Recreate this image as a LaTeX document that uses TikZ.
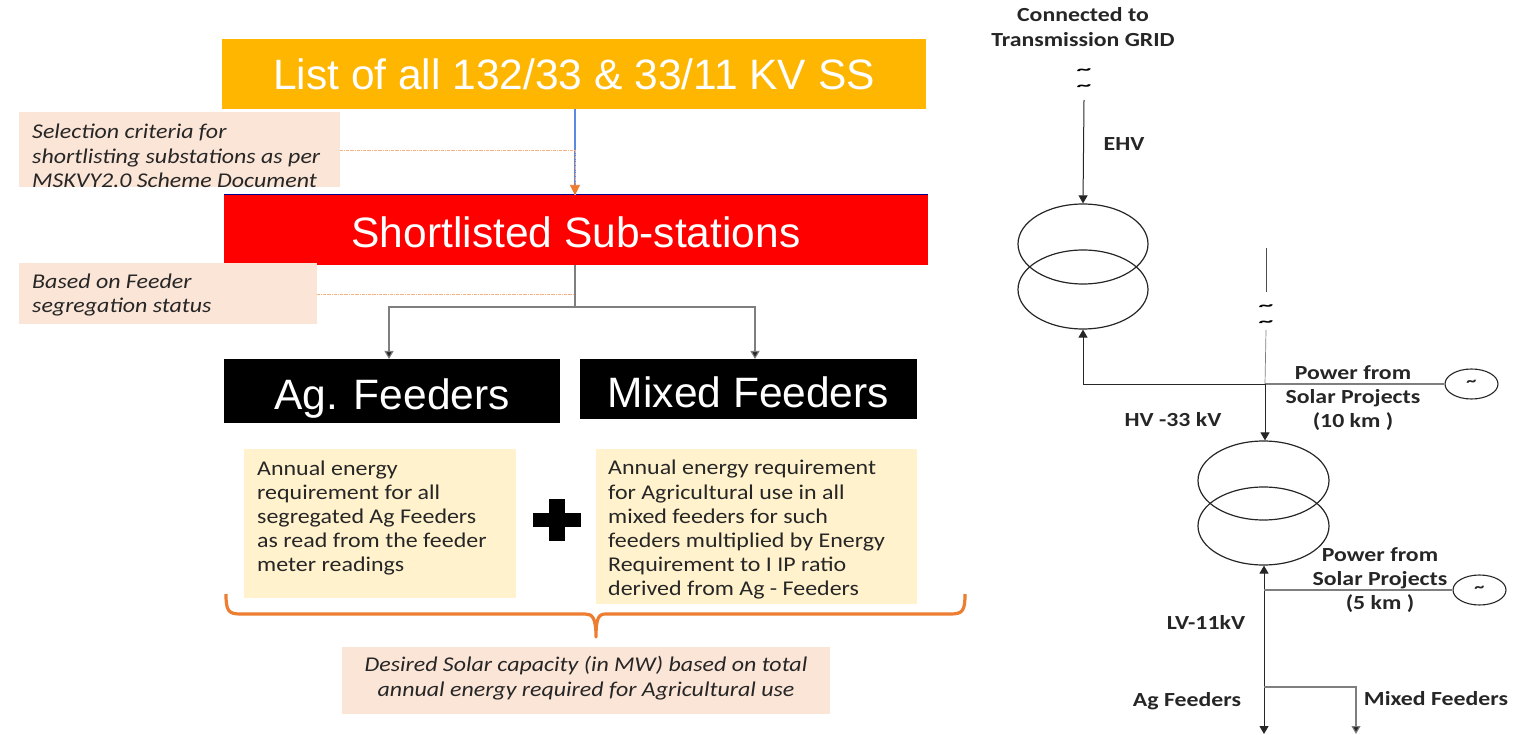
\documentclass[tikz,border=0pt]{standalone}
\usepackage{fontspec}
\setmainfont{Liberation Sans}
\newfontfamily\calfont[FakeStretch=1.14]{Carlito}
\newfontfamily\calbold[FakeStretch=1.19]{Carlito}
\newfontfamily\tildefont[FakeStretch=1.9]{Carlito}
\usetikzlibrary{shapes.geometric,arrows.meta,calc}
\definecolor{amberc}{HTML}{FFB600}
\definecolor{peachc}{HTML}{FBE5D7}
\definecolor{creamc}{HTML}{FFF2CD}
\definecolor{bracec}{HTML}{ED7D31}
\definecolor{inkc}{HTML}{262626}
\definecolor{greyc}{HTML}{7F7F7F}
\definecolor{linkblue}{HTML}{5B8AE0}
\tikzset{
  headbox/.style={rectangle,inner sep=0pt,text=white,text depth=0pt,font=\fontsize{42.5}{46}\selectfont},
  plainbox/.style={rectangle,inner sep=0pt},
  notetext/.style={inner sep=0pt,align=left,anchor=west,text=inkc,font=\calfont\itshape\fontsize{21}{24.3}\selectfont},
  bodytext/.style={inner sep=0pt,align=left,anchor=west,text=inkc,font=\calfont\fontsize{21}{24.2}\selectfont},
  elabel/.style={inner sep=0pt,align=center,text=black!85,font=\calbold\bfseries\fontsize{20}{24.3}\selectfont},
  tf/.style={ellipse,draw=black!85,line width=1.2pt,inner sep=0pt},
  src/.style={ellipse,draw=black!85,line width=1.1pt,inner sep=0pt,minimum width=53pt,minimum height=30pt},
  tild/.style={inner sep=0pt,align=center,font=\tildefont\bfseries\fontsize{15.5}{16}\selectfont,text=black},
  stild/.style={inner sep=0pt,font=\calbold\bfseries\fontsize{17}{17}\selectfont,text=black!85},
  blk/.style={line width=1pt,draw=black!85,-{Triangle[length=8pt,width=9pt]}},
  gry/.style={line width=1.1pt,draw=greyc,-{Triangle[length=8pt,width=9pt,fill=black!85]}},
  gryline/.style={line width=1.1pt,draw=greyc},
  dots/.style={line width=.6pt,draw=bracec!60,densely dashdotted},
}
\begin{document}
\begin{tikzpicture}[x=1pt,y=-1pt]
\useasboundingbox (0,0) rectangle (1529,735);
% heading boxes
\node[headbox,fill=amberc,text height=32pt,minimum width=704pt,minimum height=70pt] (list) at (574,74) {List of all 132/33 \& 33/11 KV SS};
\node[headbox,fill=red,text height=36pt,minimum width=704pt,minimum height=70pt] (short) at (576,230) {Shortlisted Sub-stations};
\draw[line width=.8pt,draw=blue!60!black] (short.north west) -- (short.north east);
\node[headbox,fill=black,text height=36pt,minimum width=336pt,minimum height=64pt] (ag) at (392,391) {Ag. Feeders};
\node[headbox,fill=black,text height=36pt,minimum width=337pt,minimum height=60pt] (mixed) at (748.5,389) {Mixed Feeders};
% notes
\node[plainbox,fill=peachc,minimum width=321pt,minimum height=75pt] (n1) at (179.5,149.5) {};
\node[notetext] (n1t) at (32,156) {Selection criteria for\\shortlisting substations as per\\MSKVY2.0 Scheme Document};
\node[plainbox,fill=peachc,minimum width=298pt,minimum height=61pt] (n2) at (168,293.5) {};
\node[notetext] (n2t) at (32,295) {Based on Feeder\\segregation status};
% main flow
\coordinate (top1) at (575,109);
\coordinate (bot1) at (575,195);
\coordinate (top2) at (575,265);
\coordinate (bus) at (575,307);
\coordinate (agtop) at (389,359);
\coordinate (mixtop) at (755,359);
\coordinate (d1) at (575,150.5);
\coordinate (d2) at (575,294);
\draw[line width=1.2pt,draw=linkblue] (top1) -- (bot1);
\draw[dots] (d1) -- (bot1);
\draw[line width=.6pt,draw=bracec,-{Triangle[length=10pt,width=10pt,fill=bracec]}] ($(bot1)+(0,-12)$) -- (bot1);
\draw[dots] (n1.east |- d1) -- (d1);
\draw[dots] (n2.east |- d2) -- (d2);
\draw[line width=1.5pt,draw=greyc] (top2) -- (bus);
\draw[gry] (bus) -| (agtop);
\draw[gry] (bus) -| (mixtop);
% body boxes
\node[plainbox,fill=creamc,minimum width=271.5pt,minimum height=149pt] (y1) at (379.75,523.5) {};
\node[bodytext] (y1t) at (257,518) {Annual energy\\requirement for all\\segregated Ag Feeders\\as read from the feeder\\meter readings};
\node[plainbox,fill=creamc,minimum width=321.5pt,minimum height=155pt] (y2) at (756.25,526.5) {};
\node[bodytext] (y2t) at (608,530) {Annual energy requirement\\for Agricultural use in all\\mixed feeders for such\\feeders multiplied by Energy\\Requirement to I IP ratio\\derived from Ag - Feeders};
% plus
\fill[black] (549,499) rectangle (565,541);
\fill[black] (533,513) rectangle (581,527);
% brace
\draw[line width=3.2pt,draw=bracec,line join=round]
  (226,594) .. controls (226,610) and (228,614) .. (240,614) -- (585,614)
  .. controls (592,614) and (596,617) .. (596,637)
  .. controls (596,617) and (599,614) .. (606,614) -- (951,614)
  .. controls (963,614) and (965,610) .. (965,594);
\node[plainbox,fill=peachc,minimum width=488pt,minimum height=67pt] (res) at (586,680.5) {};
\node[inner sep=0pt,align=center,text=inkc,font=\calfont\itshape\fontsize{21}{24.3}\selectfont] (rest) at (586,678) {Desired Solar capacity (in MW) based on total\\annual energy required for Agricultural use};
% right diagram: upper transformer
\node[elabel] (grid) at (1083,27) {Connected to\\Transmission GRID};
\node[tild] (g1) at (1084,80) {\~{}\\\~{}};
\node[elabel] (ehv) at (1124,144) {EHV};
\node[tf,minimum width=130pt,minimum height=80pt] (t1a) at (1083,244) {};
\node[tf,minimum width=130pt,minimum height=79pt] (t1b) at (1083,289.5) {};
\coordinate (g3) at (1084,100);
\coordinate (j1) at (1265,384);
\draw[blk] (g3) -- (t1a.north);
\draw[blk] (j1) -| (t1b.south);
% solar line 10 km
\coordinate (s0) at (1266.5,248);
\coordinate (s1) at (1266.5,292);
\coordinate (s2) at (1266,330);
\node[tild] (s3) at (1266,316) {\~{}\\\~{}};
\draw[line width=.6pt,draw=black!70] (s0) -- (s1);
\draw[line width=.7pt,draw=greyc] (s2) -- (j1);
\node[src] (sa) at (1471.5,384) {};
\node[stild] (sat) at (1471.5,383) {\~{}};
\draw[gryline] (j1) -- (sa.west);
\node[elabel] (p1) at (1353,398) {Power from\\Solar Projects\\(10 km )};
\node[elabel] (hv) at (1173,420) {HV -33 kV};
% lower transformer
\node[tf,minimum width=131pt,minimum height=79pt] (t2a) at (1263.5,480.5) {};
\node[tf,minimum width=131pt,minimum height=78pt] (t2b) at (1263.5,526) {};
\draw[blk] (j1) -- (j1 |- t2a.north);
\coordinate (j2) at (1264,590);
\coordinate (j3) at (1264,687);
\coordinate (e1) at (1264,734);
\coordinate (e2) at (1356,734);
\draw[blk,{Triangle[length=8pt,width=9pt]}-{Triangle[length=8pt,width=9pt]}] (j2 |- t2b.south) -- (e1);
\node[src] (sb) at (1479.5,590) {};
\node[stild] (sbt) at (1479.5,589) {\~{}};
\draw[gryline] (j2) -- (sb.west);
\node[elabel] (p2) at (1380,580) {Power from\\Solar Projects\\(5 km )};
\node[elabel] (lv) at (1206,622) {LV-11kV};
\draw[gry] (j3) -| (e2);
\node[elabel] (af) at (1187,701) {Ag Feeders};
\node[elabel] (mf) at (1436,699) {Mixed Feeders};
\end{tikzpicture}
\end{document}
